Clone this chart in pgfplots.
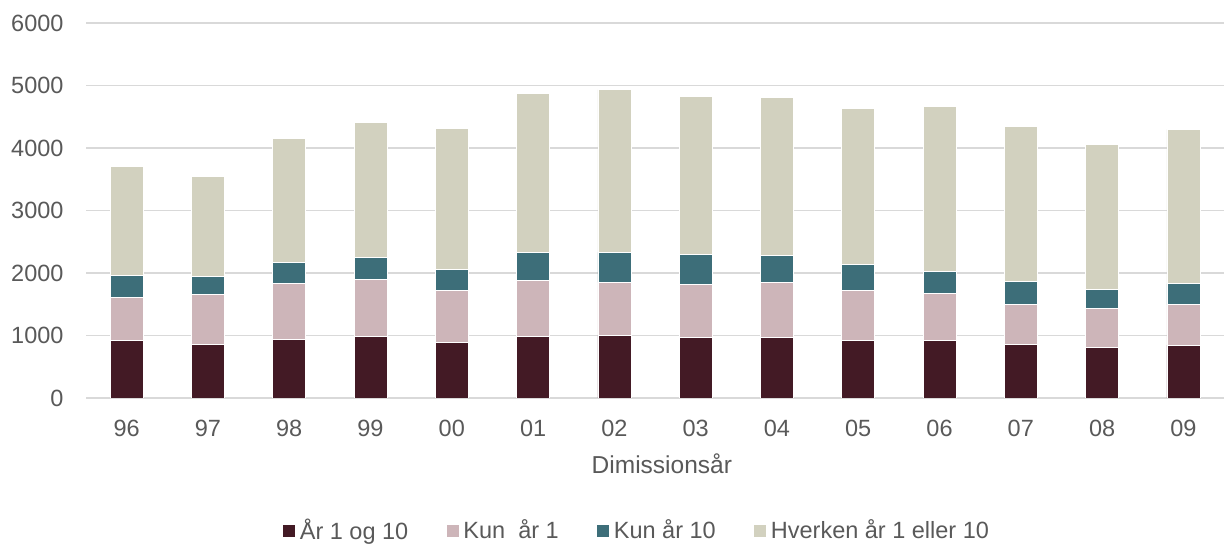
\documentclass[border=0pt]{standalone}
\usepackage{pgfplots}
\pgfplotsset{compat=1.18}
\usepackage{pgfplotstable}
\usepackage{fontspec}
\setmainfont{Liberation Sans}
\definecolor{cA}{HTML}{431A25}
\definecolor{cB}{HTML}{CDB5B9}
\definecolor{cC}{HTML}{3D6E79}
\definecolor{cD}{HTML}{D2D1BF}
\definecolor{gridc}{HTML}{D9D9D9}
\definecolor{txt}{HTML}{595959}
\pgfplotstableread{
x a b c d
0 928 683 346 1750
1 864 795 282 1600
2 933 902 330 1995
3 992 907 357 2155
4 896 821 347 2256
5 992 896 448 2533
6 997 854 480 2602
7 971 853 480 2528
8 976 869 443 2528
9 917 811 416 2496
10 928 741 363 2640
11 864 640 368 2469
12 816 619 309 2309
13 848 645 336 2470
}\data
\begin{document}
\begin{tikzpicture}
\useasboundingbox (0,0) rectangle (1226bp,544bp);
\begin{axis}[
  at={(86bp,146bp)}, anchor=south west,
  scale only axis, width=1138bp, height=375bp,
  ybar stacked, bar width=33bp,
  xmin=-0.5, xmax=13.5, ymin=0, ymax=6000,
  xtick={0,...,13},
  xticklabels={96,97,98,99,00,01,02,03,04,05,06,07,08,09},
  ytick={0,1000,...,6000},
  axis line style={draw=none},
  major tick length=0pt,
  ymajorgrids,
  grid style={line width=1.5bp, color=gridc},
  /pgf/number format/assume math mode=true,
  /pgf/number format/1000 sep={},
  ticklabel style={font=\fontsize{23.5bp}{28bp}\selectfont, text=txt},
  yticklabel style={xshift=-19bp},
  xticklabel style={yshift=-19bp},
  xlabel={Dimissionsår},
  xlabel style={at={(axis description cs:0.506,-0.176)}, anchor=center,
    font=\fontsize{24.5bp}{28bp}\selectfont, text=txt},
  legend columns=4,
  legend style={at={(axis description cs:0.483,-0.352)}, anchor=center,
    draw=none, fill=none, font=\fontsize{23.5bp}{28bp}\selectfont, text=txt,
    nodes={inner sep=0pt},
    /tikz/every odd column/.append style={column sep=4bp},
    /tikz/every even column/.append style={column sep=37.5bp}},
  legend image code/.code={\fill[#1] (0bp,-7bp) rectangle (13bp,6bp);},
  every axis plot/.append style={draw=white, line width=0.6bp},
]
\addplot[fill=cA] table[x=x,y=a]{\data};
\addplot[fill=cB] table[x=x,y=b]{\data};
\addplot[fill=cC] table[x=x,y=c]{\data};
\addplot[fill=cD] table[x=x,y=d]{\data};
\legend{År 1 og 10, Kun\ \ år 1, Kun år 10, Hverken år 1 eller 10}
\end{axis}
\end{tikzpicture}
\end{document}
